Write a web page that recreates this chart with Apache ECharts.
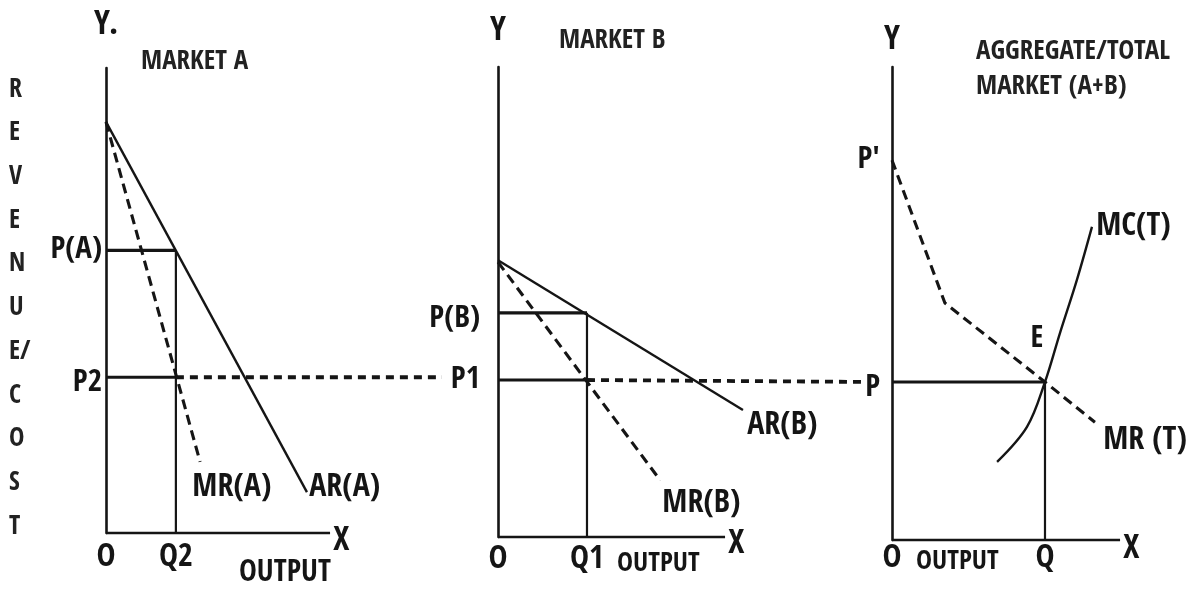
<!DOCTYPE html>
<html>
<head>
<meta charset="utf-8">
<script src="https://cdn.jsdelivr.net/npm/echarts@6/dist/echarts.min.js"></script>
<style>
html,body{margin:0;padding:0;background:#fff;}
#chart{width:1190px;height:596px;}
</style>
</head>
<body>
<div id="chart"></div>
<script>
// ---------------- DATA (axis units; each panel's drawn axes run 0..100) ----------------
// Market A
const arA = [[0, 88.4], [89.7, 8.8]];
const mrA = [[0, 88.4], [42.0, 15.3]];
const priceA = 60.8;      // P(A)
const levelA = 33.5;      // P2
const qtyA = 31.2;        // Q2
const dashEndA = 150;     // dotted P2 line runs on toward market B

// Market B
const arB = [[0, 58.9], [107.9, 27.0]];
const mrB = [[0, 58.5], [71.4, 12.1]];
const priceB = 47.7;      // P(B)
const levelB = 33.4;      // P1
const qtyB = 39.2;        // Q1
const dashEndB = [161.0, 33.0]; // dotted P1 line runs on toward total market

// Aggregate market
const mrT = [[0, 80.3], [23.2, 50.1], [67.1, 33.4], [89.0, 24.9]];
const mcT = [[46.1, 16.5], [59.2, 23.9], [67.1, 33.4], [73.7, 43.8], [81.1, 55.0], [87.7, 66.2]];
const priceT = 33.4;      // P
const qtyT = 67.1;        // Q
const pPrime = 80.3;      // P'

const axisEnd = 100;      // drawn length of each output axis

// tick labels
const yTicksA = [priceA, levelA], yLabelsA = ['P(A)', 'P2'];
const xTicksA = [0, qtyA], xLabelsA = ['O', 'Q2'];
const yTicksB = [priceB, levelB], yLabelsB = ['P(B)', 'P1'];
const xTicksB = [0, qtyB], xLabelsB = ['O', 'Q1'];
const yTicksT = [pPrime, priceT], yLabelsT = ["P'", 'P'];
const xTicksT = [0, qtyT], xLabelsT = ['O', 'Q'];

const verticalTitle = ['R','E','V','E','N','U','E/','C','O','S','T'];

// ---------------- STYLE ----------------
const FONT = "'Noto Sans Condensed','Open Sans Condensed','DejaVu Sans Condensed',sans-serif";
const INK = '#151515';
const lowered = {'P2': true, 'P(B)': true, 'P': true};   // labels sitting a little under their line

const chart = echarts.init(document.getElementById('chart'), null, {renderer: 'canvas'});

function labelFor(ticks, labels) {
  return function (v) {
    for (let i = 0; i < ticks.length; i++) {
      if (Math.abs(ticks[i] - v) < 1e-6) return lowered[labels[i]] ? '{lo|' + labels[i] + '}' : labels[i];
    }
    return '';
  };
}

function xAxisFor(i, max, ticks, labels, margin) {
  return {
    type: 'value', gridIndex: i, min: 0, max: max,
    axisLine: {show: false},
    axisTick: {show: false}, splitLine: {show: false},
    axisLabel: {show: true, customValues: ticks, formatter: labelFor(ticks, labels), margin: margin,
      fontFamily: FONT, fontSize: 32, fontWeight: 'bold', color: INK}
  };
}
function yAxisFor(i, ticks, labels, margin, yName, nameGap) {
  return {
    type: 'value', gridIndex: i, min: 0, max: 100,
    axisLine: {show: true, onZero: false, lineStyle: {color: INK, width: 2.6}},
    axisTick: {show: false}, splitLine: {show: false},
    axisLabel: {show: true, customValues: ticks, formatter: labelFor(ticks, labels), margin: margin,
      fontFamily: FONT, fontSize: 31, fontWeight: 'bold', color: INK,
      rich: {lo: {fontFamily: FONT, fontSize: 31, fontWeight: 'bold', color: INK, padding: [12, 0, 0, 0]}}},
    name: yName, nameLocation: 'end', nameGap: nameGap,
    nameTextStyle: {fontFamily: FONT, fontSize: 34, fontWeight: 'bold', color: INK, align: 'center'}
  };
}

function solid(i, data, width) {
  return {type: 'line', xAxisIndex: i, yAxisIndex: i, data: data, showSymbol: false, symbol: 'none',
    clip: false, silent: true, animation: false, lineStyle: {color: INK, width: width || 2, type: 'solid'}};
}
function dashed(i, data, width, dash) {
  return {type: 'line', xAxisIndex: i, yAxisIndex: i, data: data, showSymbol: false, symbol: 'none',
    clip: false, silent: true, animation: false, lineStyle: {color: INK, width: width || 3.1, type: dash || [10, 6]}};
}
function labelled(i, data, text, offset, kind, width, fontSize, weight) {
  const pts = data.map(function (p, k) {
    if (k === data.length - 1) {
      return {value: p, label: {show: true, formatter: text, position: 'right', distance: 0, offset: offset,
        fontFamily: FONT, fontSize: fontSize || 32, fontWeight: weight || 'bold', color: INK}};
    }
    return {value: p};
  });
  const s = kind === 'dashed' ? dashed(i, pts) : solid(i, pts, width || 2.4);
  s.showSymbol = true; s.symbol = 'circle'; s.symbolSize = 0.5;
  s.itemStyle = {color: INK};
  return s;
}

const sMRT = labelled(2, mrT, 'MR (T)', [8, 18], 'dashed');
sMRT.data[2] = {value: mrT[2], label: {show: true, formatter: 'E', position: 'top', distance: 28, offset: [-8, 0],
  fontFamily: FONT, fontSize: 30, fontWeight: 'bold', color: INK}};
const sMCT = labelled(2, mcT, 'MC(T)', [4, 0], 'solid');
sMCT.smooth = 0.35;

const titleStyle = {fontFamily: FONT, fontSize: 27, fontWeight: 'bold', color: '#222'};

const option = {
  backgroundColor: '#ffffff',
  animation: false,
  title: [
    {text: 'MARKET A', left: 141, top: 48, padding: 0, textStyle: titleStyle},
    {text: 'MARKET B', left: 559, top: 27, padding: 0, textStyle: titleStyle},
    {text: 'AGGREGATE/TOTAL', left: 976, top: 38, padding: 0, textStyle: titleStyle},
    {text: 'MARKET (A+B)', left: 976, top: 73, padding: 0, textStyle: titleStyle},
    {text: 'OUTPUT', left: 239, top: 558, padding: 0, textStyle: {fontFamily: FONT, fontSize: 30, fontWeight: 'normal', color: INK}},
    {text: 'OUTPUT', left: 617, top: 550, padding: 0, textStyle: {fontFamily: FONT, fontSize: 27, fontWeight: 'normal', color: INK}},
    {text: 'OUTPUT', left: 916, top: 548, padding: 0, textStyle: {fontFamily: FONT, fontSize: 27, fontWeight: 'normal', color: INK}},
    {text: verticalTitle.join('\n'), left: 9, top: 68, padding: 0, textAlign: 'left',
      textStyle: {fontFamily: FONT, fontSize: 26, fontWeight: 'bold', color: '#222', lineHeight: 43.7}}
  ],
  grid: [
    {left: 106, top: 68, width: 224 * 156 / 100, height: 465, containLabel: false, outerBoundsMode: 'none'},
    {left: 498, top: 67, width: 227 * 164 / 100, height: 470, containLabel: false, outerBoundsMode: 'none'},
    {left: 892, top: 67, width: 228, height: 473, containLabel: false, outerBoundsMode: 'none'}
  ],
  xAxis: [
    xAxisFor(0, 156, xTicksA, xLabelsA, 9),
    xAxisFor(1, 164, xTicksB, xLabelsB, 7),
    xAxisFor(2, 100, xTicksT, xLabelsT, 3)
  ],
  yAxis: [
    yAxisFor(0, yTicksA, yLabelsA, 4, 'Y.', 26),
    yAxisFor(1, yTicksB, yLabelsB, 18, 'Y', 19),
    yAxisFor(2, yTicksT, yLabelsT, 12, 'Y', 10)
  ],
  series: [
    // output axes (drawn as lines so the curves may run past their ends)
    labelled(0, [[0, 0], [axisEnd, 0]], 'X', [3, 8], 'solid', 2.6, 34, 'bold'),
    labelled(1, [[0, 0], [axisEnd, 0]], 'X', [3, 7], 'solid', 2.6, 34, 'bold'),
    labelled(2, [[0, 0], [axisEnd, 0]], 'X', [3, 9], 'solid', 2.6, 34, 'bold'),
    // Market A
    labelled(0, arA, 'AR(A)', [2, -4], 'solid'),
    labelled(0, mrA, 'MR(A)', [-8, 26], 'dashed'),
    solid(0, [[0, priceA], [qtyA, priceA]], 3.2),
    solid(0, [[qtyA, priceA], [qtyA, 0]], 2.2),
    solid(0, [[0, levelA], [qtyA, levelA]], 3.2),
    dashed(0, [[qtyA, levelA], [dashEndA, levelA]], 3.8, [8, 6]),
    // Market B
    labelled(1, arB, 'AR(B)', [4, 16], 'solid'),
    labelled(1, mrB, 'MR(B)', [2, 24], 'dashed'),
    solid(1, [[0, priceB], [qtyB, priceB]], 3.2),
    solid(1, [[qtyB, priceB], [qtyB, 0]], 2.2),
    solid(1, [[0, levelB], [qtyB, levelB]], 3.2),
    dashed(1, [[qtyB, levelB], dashEndB], 3.8, [8, 6]),
    // Aggregate
    sMRT,
    sMCT,
    solid(2, [[0, priceT], [qtyT, priceT]], 3.2),
    solid(2, [[qtyT, priceT], [qtyT, 0]], 2.2)
  ]
};
chart.setOption(option);
</script>
</body>
</html>
